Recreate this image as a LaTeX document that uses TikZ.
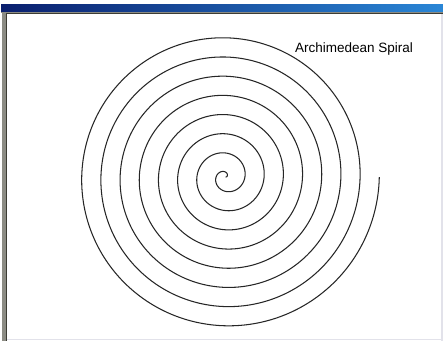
\documentclass[tikz,border=0pt]{standalone}
\usepackage{fontspec}
\setmainfont{Liberation Sans}
\definecolor{barleft}{HTML}{0A1F6E}
\definecolor{barright}{HTML}{2A86D6}
\definecolor{frameg}{HTML}{8C8C84}
\definecolor{framed}{HTML}{3C3C34}
\definecolor{edgeg}{HTML}{E2E2EA}
\definecolor{spiralc}{HTML}{262626}
\tikzset{
  spiralline/.style={draw=spiralc, line width=1.05pt, line join=round},
  caption/.style={font=\fontsize{13.5}{16}\selectfont, text=black, inner sep=0pt, anchor=base west}
}
\begin{document}
\begin{tikzpicture}[x=1pt,y=1pt]
\useasboundingbox (0,0) rectangle (443,341);
\fill[white] (0,0) rectangle (443,341);
% title bar
\shade[left color=barleft, right color=barright] (1,329) rectangle (443,336);
\fill[frameg] (1,327.5) rectangle (443,329);
\fill[framed] (3,327) rectangle (443,328);
% left border
\fill[frameg] (2,0) rectangle (7,329);
\fill[framed] (6,0) rectangle (7,327.5);
% right and bottom light edges
\fill[edgeg] (441,0) rectangle (442.5,327);
\fill[edgeg] (7,1) rectangle (443,2.5);
% spiral
\draw[spiralline] plot[domain=0:2880, samples=1400, smooth]
  ({225.7 + 0.053333*\x*cos(\x)}, {164 + 0.053333*\x*sin(\x)});
\node[caption] (title) at (295,288.7) {Archimedean Spiral};
\end{tikzpicture}
\end{document}
